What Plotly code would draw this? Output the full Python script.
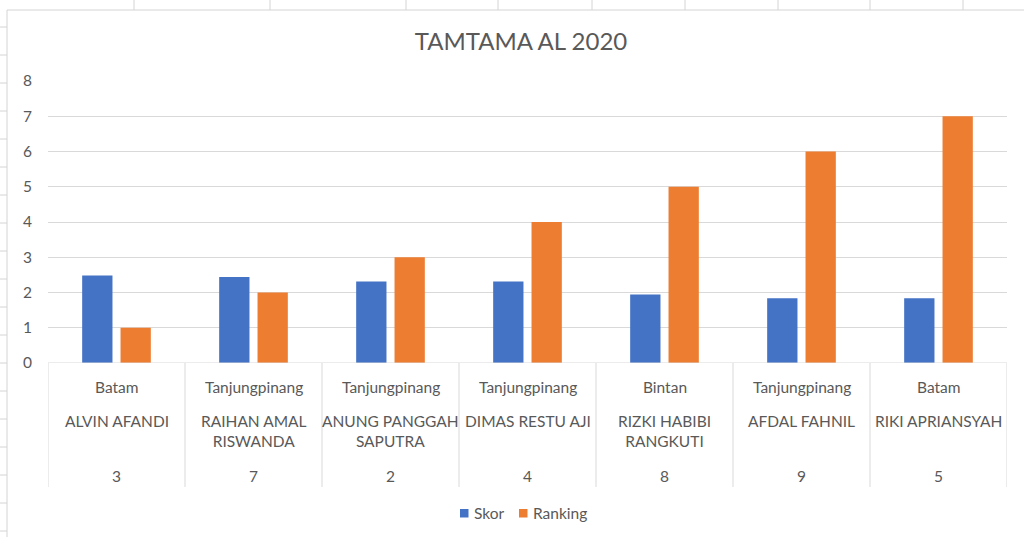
import plotly.graph_objects as go

numbers = ["3", "7", "2", "4", "8", "9", "5"]
names = ["ALVIN AFANDI", "RAIHAN AMAL<br>RISWANDA", "ANUNG PANGGAH<br>SAPUTRA", "DIMAS RESTU AJI",
         "RIZKI HABIBI<br>RANGKUTI", "AFDAL FAHNIL", "RIKI APRIANSYAH"]
cities = ["Batam", "Tanjungpinang", "Tanjungpinang", "Tanjungpinang", "Bintan", "Tanjungpinang", "Batam"]
skor = [2.48, 2.44, 2.31, 2.31, 1.94, 1.84, 1.84]
ranking = [1, 2, 3, 4, 5, 6, 7]
series_names = ["Skor", "Ranking"]
yticks = [0, 1, 2, 3, 4, 5, 6, 7, 8]

FONT = "Lato"
GRAY = "#595959"
GRID = "#d9d9d9"
COLORS = ["#4472c4", "#ed7d31"]

W, H = 1024, 537
L, R, T, B = 48, 17, 81, 174
PW, PH = W - L - R, H - T - B

def px(x):
    return (x - L) / PW

def py(y):
    return (H - B - y) / PH

xs = list(range(len(names)))

fig = go.Figure()
fig.add_trace(go.Bar(x=xs, y=skor, name=series_names[0], marker=dict(color=COLORS[0], line=dict(width=0))))
fig.add_trace(go.Bar(x=xs, y=ranking, name=series_names[1], marker=dict(color=COLORS[1], line=dict(width=0))))

shapes = []
# category dividers
for i in range(len(names) + 1):
    shapes.append(dict(type="line", xref="x", yref="paper", x0=i - 0.5, x1=i - 0.5,
                       y0=0, y1=py(487), line=dict(color=GRID, width=1)))
# zero axis line
shapes.append(dict(type="line", xref="paper", yref="y", x0=0, x1=1, y0=0, y1=0,
                   line=dict(color=GRID, width=1)))
# chart area border (spreadsheet frame)
shapes.append(dict(type="line", xref="paper", yref="paper", x0=px(7), x1=px(1024), y0=py(10), y1=py(10),
                   line=dict(color="#d4d4d4", width=1)))
shapes.append(dict(type="line", xref="paper", yref="paper", x0=px(7), x1=px(7), y0=py(10), y1=py(537),
                   line=dict(color="#d4d4d4", width=1)))
for xm in [134, 270, 406, 498, 592, 685, 778, 870, 963]:
    shapes.append(dict(type="line", xref="paper", yref="paper", x0=px(xm), x1=px(xm), y0=py(0), y1=py(10),
                       line=dict(color="#d4d4d4", width=1)))
for k in range(20):
    ym = 27 + 28 * k
    if ym > 537:
        break
    shapes.append(dict(type="line", xref="paper", yref="paper", x0=px(0), x1=px(7), y0=py(ym), y1=py(ym),
                       line=dict(color="#d4d4d4", width=1)))

annotations = []
lab_font = dict(family=FONT, size=15.5, color=GRAY)
for i in xs:
    annotations.append(dict(x=i, y=py(387), xref="x", yref="paper", text=cities[i], showarrow=False,
                            font=lab_font, yanchor="middle"))
    annotations.append(dict(x=i, y=py(410), xref="x", yref="paper", text=names[i], showarrow=False,
                            font=lab_font, yanchor="top"))
    annotations.append(dict(x=i, y=py(476), xref="x", yref="paper", text=numbers[i], showarrow=False,
                            font=lab_font, yanchor="middle"))

# legend (drawn manually to match compact Excel legend)
leg_x = [460, 519]
for nm, col, lx in zip(series_names, COLORS, leg_x):
    shapes.append(dict(type="rect", xref="paper", yref="paper", x0=px(lx), x1=px(lx + 8.5),
                       y0=py(517.5), y1=py(509), fillcolor=col, line=dict(width=0)))
    annotations.append(dict(x=px(lx + 12), y=py(513), xref="paper", yref="paper", text=nm, showarrow=False,
                            xanchor="left", yanchor="middle", font=lab_font))

fig.update_layout(
    width=W, height=H,
    margin=dict(l=L, r=R, t=T, b=B, autoexpand=False),
    paper_bgcolor="white", plot_bgcolor="white",
    title=dict(text="TAMTAMA AL 2020", xref="container", x=521 / W, xanchor="center",
               y=1 - 42 / H, yanchor="middle",
               font=dict(family=FONT, size=24, color=GRAY)),
    barmode="group", bargap=0.44, bargroupgap=0.21,
    xaxis=dict(range=[-0.5, len(names) - 0.5], showticklabels=False, showgrid=False, zeroline=False,
               showline=False, ticks=""),
    yaxis=dict(range=[0, 8], tickvals=yticks, showgrid=True, gridcolor=GRID, gridwidth=1, zeroline=False,
               showline=False, ticks="", tickfont=dict(family=FONT, size=15.5, color=GRAY), ticklabelstandoff=15),
    shapes=shapes, annotations=annotations,
    showlegend=False,
)

fig.write_html("out.html", config={"displayModeBar": False},
               post_script="document.body.style.margin='0';document.body.style.overflow='hidden';")
